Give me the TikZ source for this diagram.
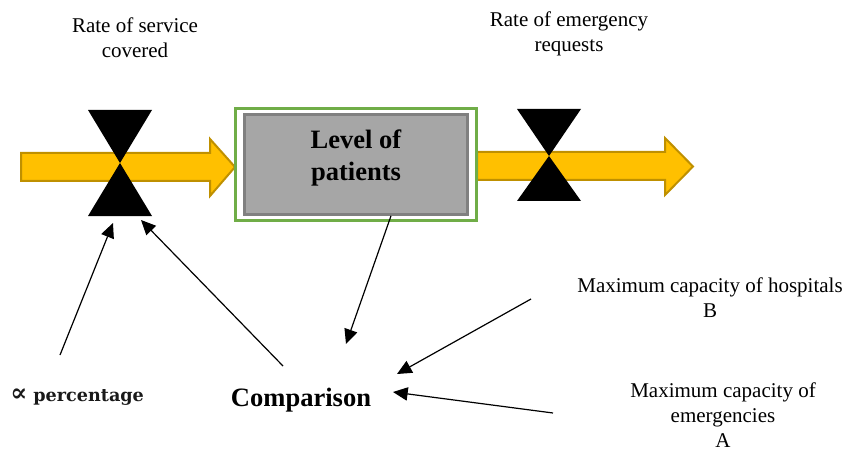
\documentclass[tikz,border=0pt]{standalone}
\usepackage{fontspec}
\setmainfont{Liberation Serif}
\newfontfamily\pctfont{DejaVu Serif}
\usetikzlibrary{positioning, fit, calc, arrows.meta}
\definecolor{pipefill} {HTML}{FFC000}
\definecolor{pipeedge} {HTML}{BF9000}
\definecolor{stockfill}{HTML}{A6A6A6}
\definecolor{stockedge}{HTML}{808080}
\definecolor{frameedge}{HTML}{70AD47}
\tikzset{
  >={Triangle[length=11pt, width=10pt]},
  note/.style={
    inner sep=0pt, align=center, anchor=north,
    font=\fontsize{15.75}{18.75}\selectfont
  },
  stock/.style={
    draw=stockedge, line width=2pt, fill=stockfill,
    rectangle, minimum width=167pt, minimum height=75pt,
    align=center, inner sep=0pt, text depth=14pt,
    font=\bfseries\fontsize{19.9}{24}\selectfont
  },
  stockframe/.style={
    draw=frameedge, line width=2.25pt, rectangle,
    inner xsep=6pt, inner ysep=3.4pt
  },
  pipe/.style={
    draw=pipeedge, fill=pipefill, line width=1.5pt, line join=miter
  },
  valve/.style={fill=black},
  link/.style={->, line width=0.9pt, draw=black},
  bigword/.style={
    inner sep=0pt, anchor=base,
    font=\bfseries\fontsize{19.9}{24}\selectfont
  },
}

\begin{document}
\begin{tikzpicture}[x=0.75pt, y=-0.75pt]
\useasboundingbox (0,0) rectangle (848,452);

% ---- Flow pipes (drawn first, under the stock) -------------------
\draw[pipe] (21,153) -- (210,153) -- (210,139) -- (235,167)
  -- (210,196) -- (210,181) -- (21,181) -- cycle;
\draw[pipe] (477,152) -- (665,152) -- (665,138) -- (693,166.5)
  -- (665,195) -- (665,180) -- (477,180) -- cycle;

% ---- Stock --------------------------------------------------------
\node[stock] (level) at (356,164.5) {Level of\\patients};
\node[stockframe, fit=(level)] (levelframe) {};

% ---- Valves -------------------------------------------------------
\coordinate (valveL) at (120,163);
\coordinate (valveR) at (549,156);
\fill[valve] (valveL) -- ++(-32,-53) -- ++(64,0) -- cycle;
\fill[valve] (valveL) -- ++(-32, 53) -- ++(64,0) -- cycle;
\fill[valve] (valveR) -- ++(-32,-47) -- ++(64,0) -- cycle;
\fill[valve] (valveR) -- ++(-32, 45) -- ++(64,0) -- cycle;

% ---- Texts --------------------------------------------------------
\node[note] (service)   at (135,17)  {Rate of service\\covered};
\node[note] (requests)  at (569,11)  {Rate of emergency\\requests};
\node[note] (hospitals) at (710,277) {Maximum capacity of hospitals\\B};
\node[note] (emerg)     at (723,382) {Maximum capacity of\\emergencies\\A};
\node[bigword] (compare) at (301,406) {Comparison};
\node[inner sep=0pt, anchor=base west, text=black!90,
      font=\pctfont\bfseries\fontsize{13.2}{15}\selectfont]
  (pct) at (10,401) {{\fontsize{19}{15}\selectfont ∝} percentage};

% ---- Link ends ----------------------------------------------------
\coordinate (pct_tail)   at (60,355);
\coordinate (valveL_a)   at (113,223);
\coordinate (cmp_tail)   at (283,366);
\coordinate (valveL_b)   at (141,220);
\coordinate (level_tail) at ($(level.south)+(35,0)$);
\coordinate (cmp_top)    at (346,344);
\coordinate (hosp_tail)  at (531,299);
\coordinate (cmp_ne)     at (397,374);
\coordinate (emerg_tail) at (553,413);
\coordinate (cmp_east)   at (393,392);

% ---- Links --------------------------------------------------------
\draw[link] (pct_tail)   -- (valveL_a);
\draw[link] (cmp_tail)   -- (valveL_b);
\draw[link] (level_tail) -- (cmp_top);
\draw[link] (hosp_tail)  -- (cmp_ne);
\draw[link] (emerg_tail) -- (cmp_east);

\end{tikzpicture}
\end{document}
